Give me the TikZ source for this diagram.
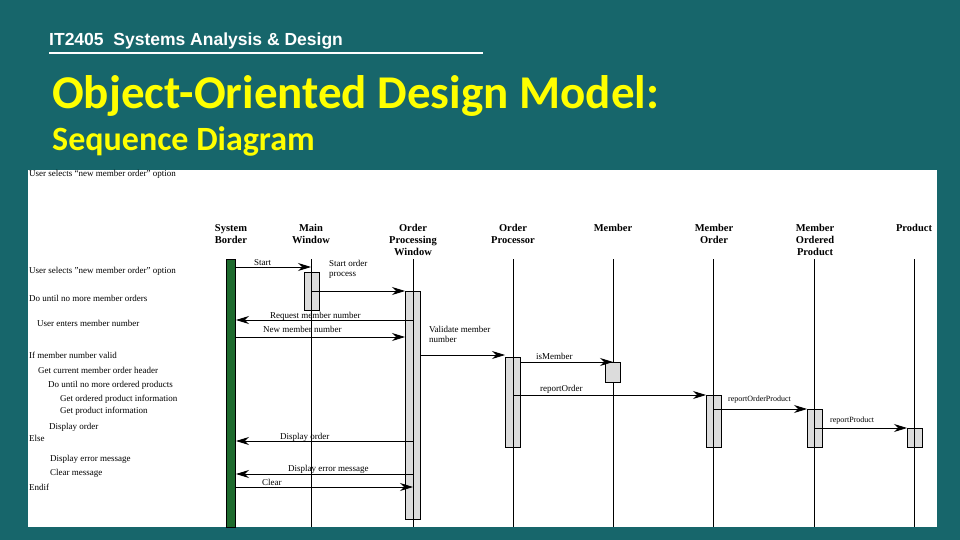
\documentclass[tikz,border=0pt]{standalone}
\usepackage{fontspec}
\setmainfont{Liberation Serif}
\newfontfamily\titlefont{Carlito}
\newfontfamily\hdrfont{Liberation Sans}
\usetikzlibrary{arrows.meta}
\definecolor{bgteal}{HTML}{17666B}
\definecolor{ttlyellow}{HTML}{FFFF00}
\definecolor{bordergreen}{HTML}{1E6B2E}
\definecolor{actgray}{HTML}{DCDCDC}
\begin{document}
\begin{tikzpicture}[x=1pt,y=-1pt,
  lbl/.style={font=\fontsize{9}{10}\selectfont, inner sep=0pt, anchor=base west},
  hdr/.style={font=\fontsize{10.5}{12}\selectfont\bfseries, align=center, anchor=north, inner sep=0pt},
  life/.style={draw=black, line width=1pt},
  act/.style={draw=black, fill=actgray, line width=0.7pt},
  msg/.style={draw=black, line width=0.8pt, -{Stealth[length=13pt,width=8pt]}},
  mlbl/.style={font=\fontsize{9}{10}\selectfont, inner sep=0pt, anchor=base west, align=left}]
\fill[bgteal] (0,0) rectangle (960,540);
\useasboundingbox (0,0) rectangle (960,540);
% header
\node[font=\hdrfont\bfseries\fontsize{17.5}{19}\selectfont, text=white, anchor=base west, inner sep=0pt] (hd) at (49,46) {IT2405\ \ Systems Analysis \& Design};
\coordinate (ul1) at (49,53); \coordinate (ul2) at (483,53);
\draw[white, line width=2pt] (ul1) -- (ul2);
\node[font=\titlefont\bfseries\fontsize{47}{50}\selectfont, text=ttlyellow, anchor=base west, inner sep=0pt] (t1) at (52,109) {Object-Oriented Design Model:};
\node[font=\titlefont\bfseries\fontsize{34}{40}\selectfont, text=ttlyellow, anchor=base west, inner sep=0pt] (t2) at (52,151) {Sequence Diagram};
% panel
\fill[white] (28,170) rectangle (937,527);
\begin{scope}
\clip (28,170) rectangle (937,527);
% headers
\node[hdr] (hSB) at (231,224) {System\\Border};
\node[hdr] (hMW) at (311,224) {Main\\Window};
\node[hdr] (hOPW) at (413,224) {Order\\Processing\\Window};
\node[hdr] (hOP) at (513,224) {Order\\Processor};
\node[hdr] (hM) at (613,224) {Member};
\node[hdr] (hMO) at (714,224) {Member\\Order};
\node[hdr] (hMOP) at (815,224) {Member\\Ordered\\Product};
\node[hdr] (hP) at (914,224) {Product};
% lifelines
\foreach \n/\x in {MW/311,OPW/413,OP/513,M/613,MO/713,MOP/814,P/914}{
  \coordinate (\n top) at (\x,259); \coordinate (\n bot) at (\x,527);
  \draw[life] (\n top) -- (\n bot);
}
\draw[draw=black, fill=bordergreen, line width=0.6pt] (226,259) rectangle (235,527);
% activations
\draw[act] (304,272) rectangle (319,310);
\draw[act] (405,291) rectangle (420,519);
\draw[act] (505,357) rectangle (520,447);
\draw[act] (605,362) rectangle (620,382);
\draw[act] (706,395) rectangle (721,447);
\draw[act] (807,409) rectangle (822,447);
\draw[act] (907,428) rectangle (922,447);
\foreach \x in {311,413,513,713,814,914}{\draw[life] (\x,259) -- (\x,527);}
% message coordinates
\coordinate (sbStart) at (235,267); \coordinate (mwStart) at (311,267);
\coordinate (mwSO) at (311,291); \coordinate (opwSO) at (405,291);
\coordinate (opwRQ) at (413,320); \coordinate (sbRQ) at (236,320);
\coordinate (sbNM) at (235,337); \coordinate (opwNM) at (405,337);
\coordinate (opwV) at (420,355); \coordinate (opV) at (505,355);
\coordinate (opI) at (520,362); \coordinate (mI) at (613,362);
\coordinate (opR) at (513,395); \coordinate (moR) at (706,395);
\coordinate (moP) at (713,409); \coordinate (mopP) at (807,409);
\coordinate (mopR) at (814,428); \coordinate (pR) at (907,428);
\coordinate (opwD) at (413,441); \coordinate (sbD) at (236,441);
\coordinate (opwE) at (413,474); \coordinate (sbE) at (236,474);
\coordinate (sbC) at (235,487); \coordinate (opwC) at (413,487);
\draw[msg] (sbStart) -- (mwStart);
\draw[msg] (mwSO) -- (opwSO);
\draw[msg] (opwRQ) -- (sbRQ);
\draw[msg] (sbNM) -- (opwNM);
\draw[msg] (opwV) -- (opV);
\draw[msg] (opI) -- (mI);
\draw[msg] (opR) -- (moR);
\draw[msg] (moP) -- (mopP);
\draw[msg] (mopR) -- (pR);
\draw[msg] (opwD) -- (sbD);
\draw[msg] (opwE) -- (sbE);
\draw[msg] (sbC) -- (opwC);
% message labels
\node[mlbl] (lStart) at (254,265) {Start};
\node[mlbl] (lSO) at (329,276) {Start order\\process};
\node[mlbl] (lRQ) at (270,318) {Request member number};
\node[mlbl] (lNM) at (263,332) {New member number};
\node[mlbl] (lV) at (429,342) {Validate member\\number};
\node[mlbl] (lI) at (536,359) {isMember};
\node[mlbl] (lR) at (540,391) {reportOrder};
\node[mlbl, font=\fontsize{8}{9}\selectfont] (lP) at (728,401) {reportOrderProduct};
\node[mlbl, font=\fontsize{8}{9}\selectfont] (lRP) at (830,422) {reportProduct};
\node[mlbl] (lD) at (280,439) {Display order};
\node[mlbl] (lE) at (288,471) {Display error message};
\node[mlbl] (lC) at (262,485) {Clear};
% left text
\node[lbl] (n0) at (29,177) {User selects ``new member order'' option};
\node[lbl] (n1) at (29,273) {User selects "new member order" option};
\node[lbl] (n2) at (29,301) {Do until no more member orders};
\node[lbl] (n3) at (37,326) {User enters member number};
\node[lbl] (n4) at (29,358) {If member number valid};
\node[lbl] (n5) at (38,373) {Get current member order header};
\node[lbl] (n6) at (48,387) {Do until no more ordered products};
\node[lbl] (n7) at (60,401) {Get ordered product information};
\node[lbl] (n8) at (60,413) {Get product information};
\node[lbl] (n9) at (49,429) {Display order};
\node[lbl] (n10) at (29,441) {Else};
\node[lbl] (n11) at (50,461) {Display error message};
\node[lbl] (n12) at (50,475) {Clear message};
\node[lbl] (n13) at (29,490) {Endif};
\end{scope}
\end{tikzpicture}
\end{document}
